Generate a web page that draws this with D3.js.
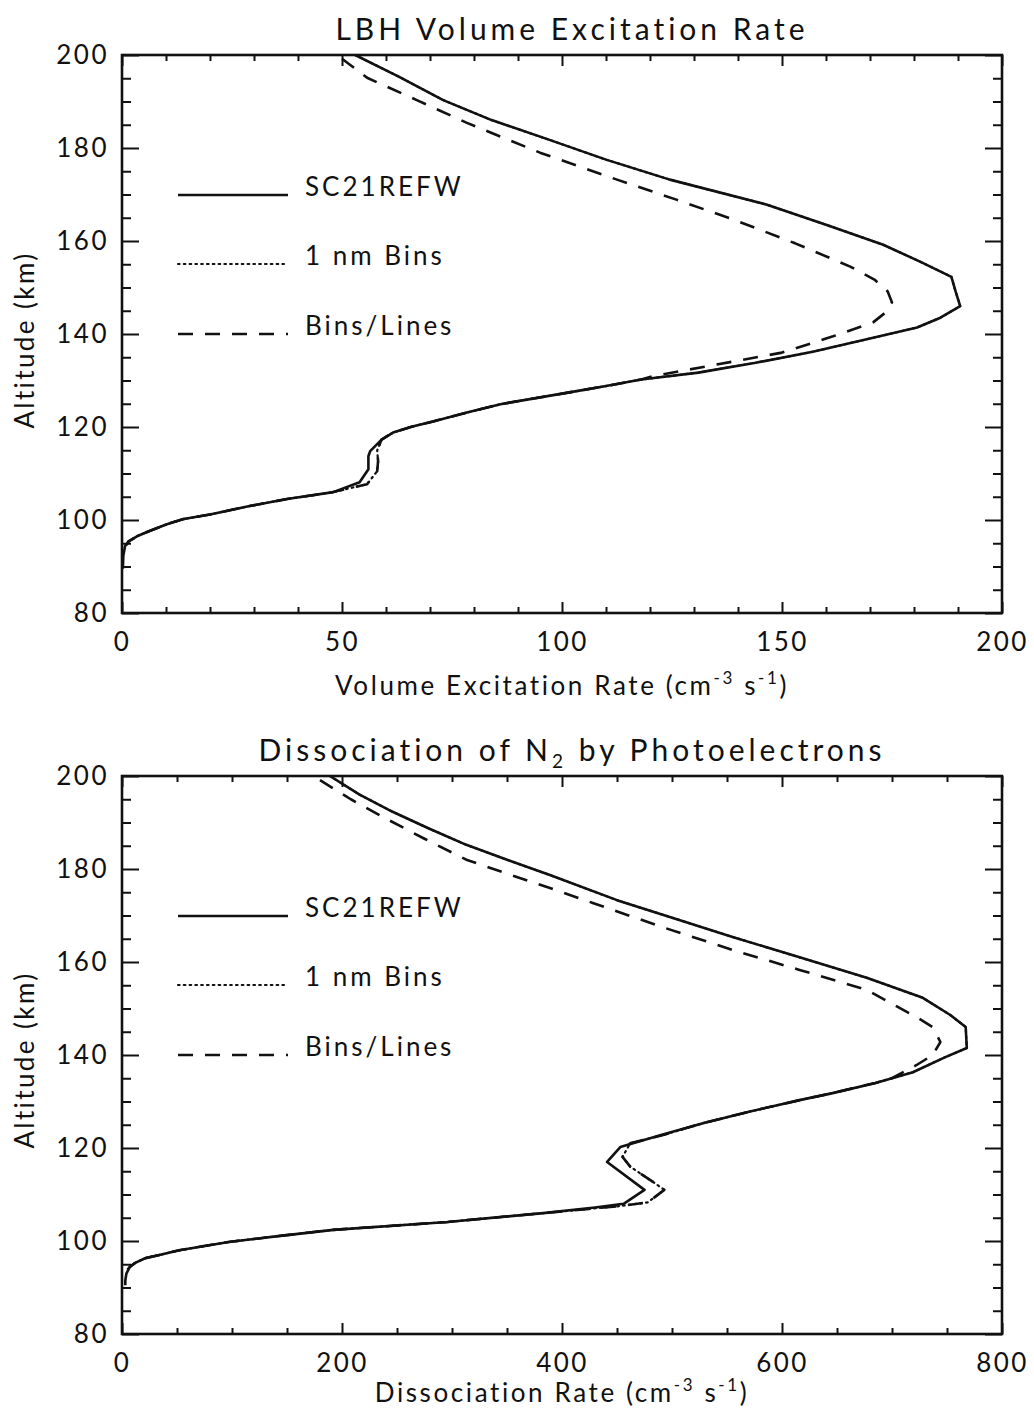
<!DOCTYPE html>
<html>
<head>
<meta charset="utf-8">
<script src="https://cdn.jsdelivr.net/npm/d3@7"></script>
<style>
  html, body { margin: 0; padding: 0; background: #fff; }
  svg text { font-family: Lato, "DejaVu Sans", sans-serif; fill: #111; }
</style>
</head>
<body>
<svg id="chart" width="1034" height="1417"></svg>
<script>
// Altitude axis (km) shared by both panels
const altTicks = [80, 100, 120, 140, 160, 180, 200];
const lbhTicks = [0, 50, 100, 150, 200];
const dissTicks = [0, 200, 400, 600, 800];
const legendLabels = ["SC21REFW", "1 nm Bins", "Bins/Lines"];

// LBH volume excitation rate profiles: [altitude km, rate cm^-3 s^-1]
const lbhSolid = [
  [200, 53], [195.3, 63], [190.3, 73], [186, 84], [181.8, 97], [177.5, 110], [173.2, 124.5],
  [167.8, 146.6], [163.5, 160], [159.2, 173], [155.5, 181.5], [152.3, 188.5], [149, 189.5],
  [146, 190.5], [143.5, 186], [141.4, 180.7], [138.8, 169], [136.2, 157], [133.8, 144],
  [131.7, 131], [130.2, 118], [128.8, 110], [127.5, 102], [124.9, 86], [123.1, 78.4], [121.2, 70.7],
  [120.1, 66], [118.8, 61.6], [117.3, 59], [114.8, 56.4], [113.7, 56], [110.9, 56],
  [108.1, 54], [106, 48], [104.5, 37.5], [103, 29], [101.2, 20], [100.2, 14], [99.1, 10.2],
  [97.7, 6.4], [96.5, 3.4], [95.4, 1.5], [94.4, 0.7], [92.3, 0.3], [89.5, 0.2]
];
const lbhDotted = [
  [200, 53], [195.3, 63], [190.3, 73], [186, 84], [181.8, 97], [177.5, 110], [173.2, 124.5],
  [167.8, 146.6], [163.5, 160], [159.2, 173], [155.5, 181.5], [152.3, 188.5], [149, 189.5],
  [146, 190.5], [143.5, 186], [141.4, 180.7], [138.8, 169], [136.2, 157], [133.8, 144],
  [131.7, 131], [130.2, 118], [128.8, 110], [127.5, 102], [124.9, 86], [123.1, 78.4], [121.2, 70.7],
  [120.1, 66], [118.8, 61.6], [117.3, 59], [115, 58], [112.6, 58.2], [110.5, 58],
  [107.7, 55.7], [106, 48], [104.5, 37.5], [103, 29], [101.2, 20], [100.2, 14], [99.1, 10.2],
  [97.7, 6.4], [96.5, 3.4], [95.4, 1.5], [94.6, 1]
];
const lbhDashed = [
  [199.2, 50], [195.1, 55.7], [190.3, 67], [185.4, 78.4], [179, 95], [173.2, 112.5],
  [168.9, 126], [164.6, 139], [159.5, 153], [154.5, 165.5], [151.7, 171], [149.2, 174],
  [146.8, 175], [144.6, 173.5], [142.5, 170.7], [139.5, 161.6], [136, 150], [133.4, 135],
  [131, 121], [130.2, 118], [128.8, 110], [127.5, 102], [124.9, 86], [123.1, 78.4], [121.2, 70.7],
  [120.1, 66], [118.8, 61.6], [117.3, 59], [115, 58], [112.6, 58.2], [110.5, 58],
  [107.7, 55.7], [106, 48], [104.5, 37.5], [103, 29], [101.2, 20], [100.2, 14], [99.1, 10.2],
  [97.7, 6.4], [96.5, 3.4], [95.4, 1.5], [94.6, 1]
];

// N2 dissociation rate profiles: [altitude km, rate cm^-3 s^-1]
const dissSolid = [
  [200, 189], [196, 216], [192.3, 246], [188.7, 279], [185.2, 313], [182, 350], [178.7, 389],
  [173.3, 450], [169.3, 503], [165.4, 555], [161, 616], [156.6, 677], [152.3, 728],
  [148.6, 753], [146, 767], [141.5, 768], [139.5, 748], [136.3, 719], [134, 685],
  [131.8, 646], [130.3, 616], [127.8, 570], [125.4, 529], [122.8, 490], [120.2, 453],
  [117, 441], [111, 475], [108, 456], [107.2, 430], [106, 383], [104.1, 296], [102.4, 192],
  [101, 140], [99.8, 97], [98, 52], [97, 34], [96.3, 21], [95.3, 12], [94.4, 7], [93, 4],
  [91.5, 3], [90.5, 3]
];
const dissDotted = [
  [200, 189], [196, 216], [192.3, 246], [188.7, 279], [185.2, 313], [182, 350], [178.7, 389],
  [173.3, 450], [169.3, 503], [165.4, 555], [161, 616], [156.6, 677], [152.3, 728],
  [148.6, 753], [146, 767], [141.5, 768], [139.5, 748], [136.3, 719], [134, 685],
  [131.8, 646], [130.3, 616], [127.8, 570], [125.4, 529], [122.8, 492], [121, 462],
  [118.1, 455], [116, 462], [112.5, 484], [111, 493], [108.3, 478], [107.5, 452], [106, 383],
  [104.1, 296], [102.4, 192], [101, 140], [99.8, 97], [98, 52], [97, 34], [96.3, 21],
  [95.3, 12], [94.4, 7], [93.8, 5]
];
const dissDashed = [
  [199.1, 180], [195, 208], [191.2, 237], [186.5, 275], [182, 313], [179, 350], [175.9, 389],
  [172.7, 428], [167.6, 490], [162.6, 555], [158.3, 616], [154, 677], [151, 700],
  [148.2, 722], [146, 737], [142.8, 744], [140, 737], [137.8, 722], [135, 700], [134, 685],
  [131.8, 646], [130.3, 616], [127.8, 570], [125.4, 529], [122.8, 492], [121, 462],
  [118.1, 455], [116, 462], [112.5, 484], [111, 493], [108.3, 478], [107.5, 452], [106, 383],
  [104.1, 296], [102.4, 192], [101, 140], [99.8, 97], [98, 52], [97, 34], [96.3, 21],
  [95.3, 12], [94.4, 7], [93.8, 5]
];

const lineStyles = [
  { dash: null, width: 2.6, cap: "butt" },
  { dash: "1.6,4.2", width: 2.2, cap: "round" },
  { dash: "15,12", width: 2.6, cap: "butt" }
];

const svg = d3.select("#chart");

const panels = [
  {
    top: 55, title: "LBH Volume Excitation Rate", xLabel: "Volume Excitation Rate",
    xMax: 200, xTicks: lbhTicks, xMinorStep: 10, xLabelY: 695, yLabelY: 340,
    series: [lbhDotted, lbhDashed, lbhSolid]
  },
  {
    top: 776, title: "Dissociation of N", titleSub: "2", titleRest: " by Photoelectrons",
    xLabel: "Dissociation Rate", xMax: 800, xTicks: dissTicks, xMinorStep: 50,
    xLabelY: 1402, yLabelY: 1060,
    series: [dissDotted, dissDashed, dissSolid]
  }
];

const left = 122, width = 880, height = 558;

panels.forEach((p, idx) => {
  const g = svg.append("g").attr("transform", `translate(${left},${p.top})`);
  const x = d3.scaleLinear().domain([0, p.xMax]).range([0, width]);
  const y = d3.scaleLinear().domain([80, 200]).range([height, 0]);

  const clipId = "clip" + idx;
  g.append("clipPath").attr("id", clipId)
    .append("rect").attr("x", 0).attr("y", 0).attr("width", width).attr("height", height);

  const minorX = d3.range(0, p.xMax + 0.001, p.xMinorStep).filter(v => !p.xTicks.includes(v));
  const minorY = d3.range(80, 200.001, 5).filter(v => !altTicks.includes(v));
  const strip = sel => sel.select(".domain").remove();
  const tickStyle = sel => sel.selectAll("line").attr("stroke", "#111").attr("stroke-width", 2);

  // major and minor ticks on all four sides, pointing inward
  g.append("g").call(d3.axisLeft(y).tickValues(altTicks).tickSize(-17).tickPadding(13).tickFormat(d3.format("d")))
    .call(strip).call(tickStyle)
    .selectAll("text").attr("font-size", 26).attr("letter-spacing", 2.5).attr("fill", "#111");
  g.append("g").call(d3.axisLeft(y).tickValues(minorY).tickSize(-9).tickFormat(""))
    .call(strip).call(tickStyle);
  g.append("g").attr("transform", `translate(${width},0)`)
    .call(d3.axisRight(y).tickValues(altTicks).tickSize(-17).tickFormat(""))
    .call(strip).call(tickStyle);
  g.append("g").attr("transform", `translate(${width},0)`)
    .call(d3.axisRight(y).tickValues(minorY).tickSize(-9).tickFormat(""))
    .call(strip).call(tickStyle);

  g.append("g").attr("transform", `translate(0,${height})`)
    .call(d3.axisBottom(x).tickValues(p.xTicks).tickSize(-11).tickPadding(20).tickFormat(d3.format("d")))
    .call(strip).call(tickStyle)
    .selectAll("text").attr("font-size", 26).attr("letter-spacing", 2.5).attr("fill", "#111");
  g.append("g").attr("transform", `translate(0,${height})`)
    .call(d3.axisBottom(x).tickValues(minorX).tickSize(-6).tickFormat(""))
    .call(strip).call(tickStyle);
  g.append("g")
    .call(d3.axisTop(x).tickValues(p.xTicks).tickSize(-11).tickFormat(""))
    .call(strip).call(tickStyle);
  g.append("g")
    .call(d3.axisTop(x).tickValues(minorX).tickSize(-6).tickFormat(""))
    .call(strip).call(tickStyle);

  // frame
  g.append("rect").attr("width", width).attr("height", height)
    .attr("fill", "none").attr("stroke", "#111").attr("stroke-width", 2.6);

  // profiles: dotted, dashed, then solid on top
  const line = d3.line().x(d => x(d[1])).y(d => y(d[0]));
  const styleIdx = [1, 2, 0];
  const curves = g.append("g").attr("clip-path", `url(#${clipId})`);
  p.series.forEach((s, i) => {
    const st = lineStyles[styleIdx[i]];
    curves.append("path").datum(s).attr("d", line)
      .attr("fill", "none").attr("stroke", "#111")
      .attr("stroke-width", st.width)
      .attr("stroke-linejoin", "round")
      .attr("stroke-linecap", st.cap)
      .attr("stroke-dasharray", st.dash);
  });

  // legend
  const legY = [140, 209, 279];
  legendLabels.forEach((lab, i) => {
    const st = lineStyles[i];
    g.append("line").attr("x1", 178 - left).attr("x2", 288 - left)
      .attr("y1", legY[i]).attr("y2", legY[i])
      .attr("stroke", "#111").attr("stroke-width", st.width)
      .attr("stroke-linecap", st.cap)
      .attr("stroke-dasharray", st.dash);
    g.append("text").attr("x", 305 - left).attr("y", legY[i] + 1)
      .attr("font-size", 26).attr("letter-spacing", 3).text(lab);
  });

  // title
  const t = svg.append("text").attr("x", left + width / 2 + 10).attr("y", p.top - 15)
    .attr("text-anchor", "middle").attr("font-size", 30).attr("letter-spacing", 4);
  t.append("tspan").text(p.title);
  if (p.titleSub) {
    t.append("tspan").attr("font-size", 19).attr("dy", 7).text(p.titleSub);
    t.append("tspan").attr("dy", -7).text(p.titleRest);
  }

  // x-axis label with units
  const xl = svg.append("text").attr("x", left + width / 2).attr("y", p.xLabelY)
    .attr("text-anchor", "middle").attr("font-size", 26).attr("letter-spacing", 2.6);
  xl.append("tspan").text(p.xLabel + " (cm");
  xl.append("tspan").attr("font-size", 17).attr("dy", -11).text("-3");
  xl.append("tspan").attr("dy", 11).text(" s");
  xl.append("tspan").attr("font-size", 17).attr("dy", -11).text("-1");
  xl.append("tspan").attr("dy", 11).text(")");

  // y-axis label
  svg.append("text")
    .attr("transform", `translate(34,${p.yLabelY}) rotate(-90)`)
    .attr("text-anchor", "middle").attr("font-size", 26).attr("letter-spacing", 2.4)
    .text("Altitude (km)");
});
</script>
</body>
</html>
